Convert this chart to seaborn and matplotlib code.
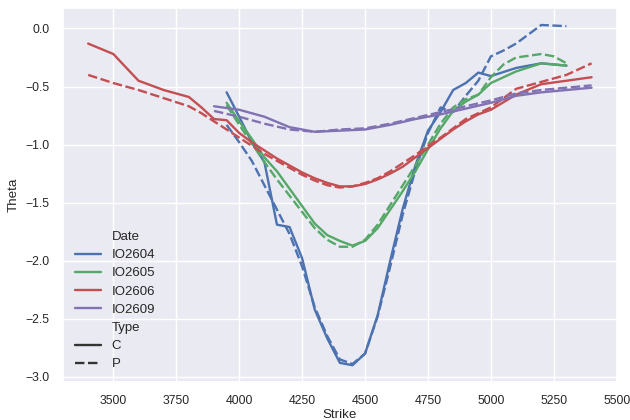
import pandas as pd
import matplotlib
matplotlib.use('Agg')
import matplotlib.pyplot as plt
import seaborn as sns

# Theta by strike
dates = ['IO2604', 'IO2605', 'IO2606', 'IO2609']

# IO2604
k_2604_c = [3950, 4000, 4050, 4100, 4150, 4200, 4250, 4300, 4350, 4400, 4450, 4500, 4550,
            4600, 4650, 4700, 4750, 4800, 4850, 4900, 4950, 5000, 5100, 5200, 5300]
t_2604_c = [-0.55, -0.76, -0.98, -1.15, -1.69, -1.71, -1.98, -2.42, -2.67, -2.88, -2.90, -2.80, -2.47,
            -2.00, -1.55, -1.18, -0.88, -0.72, -0.53, -0.47, -0.38, -0.41, -0.34, -0.30, -0.32]
k_2604_p = [3950, 4000, 4050, 4100, 4150, 4200, 4250, 4300, 4350, 4400, 4450, 4500, 4550,
            4600, 4650, 4700, 4750, 4800, 4850, 4900, 4950, 5000, 5050, 5100, 5200, 5300]
t_2604_p = [-0.83, -0.98, -1.14, -1.35, -1.56, -1.77, -2.05, -2.40, -2.65, -2.85, -2.89, -2.80, -2.48,
            -2.05, -1.60, -1.22, -0.90, -0.68, -0.72, -0.58, -0.45, -0.24, -0.19, -0.13, 0.03, 0.02]

# IO2605
k_2605_c = [3950, 4000, 4050, 4100, 4150, 4200, 4250, 4300, 4350, 4400, 4450, 4500, 4550,
            4600, 4650, 4700, 4750, 4800, 4850, 4900, 4950, 5000, 5100, 5200, 5300]
t_2605_c = [-0.64, -0.80, -0.95, -1.11, -1.23, -1.38, -1.53, -1.68, -1.78, -1.83, -1.87, -1.83, -1.72,
            -1.56, -1.40, -1.23, -1.04, -0.86, -0.71, -0.63, -0.57, -0.47, -0.37, -0.30, -0.32]
k_2605_p = [3950, 4000, 4050, 4100, 4150, 4200, 4250, 4300, 4350, 4400, 4450, 4500, 4550,
            4600, 4650, 4700, 4750, 4800, 4850, 4900, 4950, 5000, 5050, 5100, 5200, 5250, 5300]
t_2605_p = [-0.66, -0.83, -0.99, -1.15, -1.30, -1.44, -1.58, -1.72, -1.82, -1.88, -1.88, -1.82, -1.69,
            -1.52, -1.35, -1.18, -1.00, -0.82, -0.68, -0.61, -0.57, -0.42, -0.31, -0.25, -0.22, -0.24, -0.30]

# IO2606
k_2606_c = [3400, 3500, 3600, 3700, 3800, 3850, 3900, 3950, 4000, 4050, 4100, 4150, 4200, 4250,
            4300, 4350, 4400, 4450, 4500, 4550, 4600, 4650, 4700, 4750, 4800, 4850, 4900, 4950,
            5000, 5100, 5200, 5300, 5400]
t_2606_c = [-0.13, -0.22, -0.45, -0.53, -0.59, -0.68, -0.78, -0.79, -0.90, -0.98, -1.05, -1.12, -1.18, -1.24,
            -1.29, -1.33, -1.36, -1.36, -1.34, -1.30, -1.25, -1.19, -1.11, -1.03, -0.95, -0.87, -0.80, -0.74,
            -0.70, -0.57, -0.48, -0.45, -0.42]
k_2606_p = [3400, 3500, 3600, 3700, 3800, 3850, 3900, 3950, 4000, 4050, 4100, 4150, 4200, 4250,
            4300, 4350, 4400, 4450, 4500, 4550, 4600, 4650, 4700, 4750, 4800, 4850, 4900, 4950,
            5000, 5050, 5100, 5200, 5300, 5400]
t_2606_p = [-0.40, -0.47, -0.53, -0.60, -0.67, -0.73, -0.80, -0.87, -0.94, -1.01, -1.08, -1.14, -1.20, -1.26,
            -1.31, -1.35, -1.37, -1.36, -1.33, -1.29, -1.23, -1.16, -1.09, -1.01, -0.94, -0.86, -0.78, -0.73,
            -0.68, -0.60, -0.52, -0.46, -0.40, -0.30]

# IO2609
k_2609_c = [3900, 4000, 4100, 4200, 4300, 4400, 4500, 4600, 4700, 4800, 4900, 5000, 5100, 5200, 5300, 5400]
t_2609_c = [-0.67, -0.70, -0.76, -0.85, -0.89, -0.88, -0.87, -0.83, -0.78, -0.74, -0.69, -0.64, -0.58, -0.55, -0.53, -0.51]
k_2609_p = [3900, 4000, 4100, 4200, 4300, 4400, 4500, 4600, 4700, 4800, 4900, 5000, 5100, 5200, 5300, 5400]
t_2609_p = [-0.71, -0.76, -0.82, -0.87, -0.89, -0.87, -0.86, -0.82, -0.77, -0.72, -0.67, -0.62, -0.56, -0.53, -0.51, -0.49]

series = [
    ('IO2604', 'C', k_2604_c, t_2604_c), ('IO2604', 'P', k_2604_p, t_2604_p),
    ('IO2605', 'C', k_2605_c, t_2605_c), ('IO2605', 'P', k_2605_p, t_2605_p),
    ('IO2606', 'C', k_2606_c, t_2606_c), ('IO2606', 'P', k_2606_p, t_2606_p),
    ('IO2609', 'C', k_2609_c, t_2609_c), ('IO2609', 'P', k_2609_p, t_2609_p),
]

frames = []
for d, typ, ks, ts in series:
    frames.append(pd.DataFrame({'Strike': ks, 'Theta': ts, 'Date': d, 'Type': typ}))
df = pd.concat(frames, ignore_index=True)

sns.set_theme(style='darkgrid', font_scale=0.8)
plt.rcParams['font.family'] = ['Liberation Sans', 'DejaVu Sans']

# old seaborn "deep" order: blue, green, red, purple
colors = sns.color_palette('deep6')[:4]

fig, ax = plt.subplots(figsize=(6.3, 4.2), dpi=100)
sns.lineplot(data=df, x='Strike', y='Theta', hue='Date', style='Type',
             hue_order=dates, style_order=['C', 'P'], palette=colors,
             estimator=None, linewidth=1.7, ax=ax)
ax.legend(loc='lower left', frameon=False, fontsize=9.5, labelspacing=0.45)
ax.xaxis.labelpad = 1
fig.subplots_adjust(left=0.1, right=0.979, top=0.981, bottom=0.09)
fig.savefig('out.png', dpi=100)
